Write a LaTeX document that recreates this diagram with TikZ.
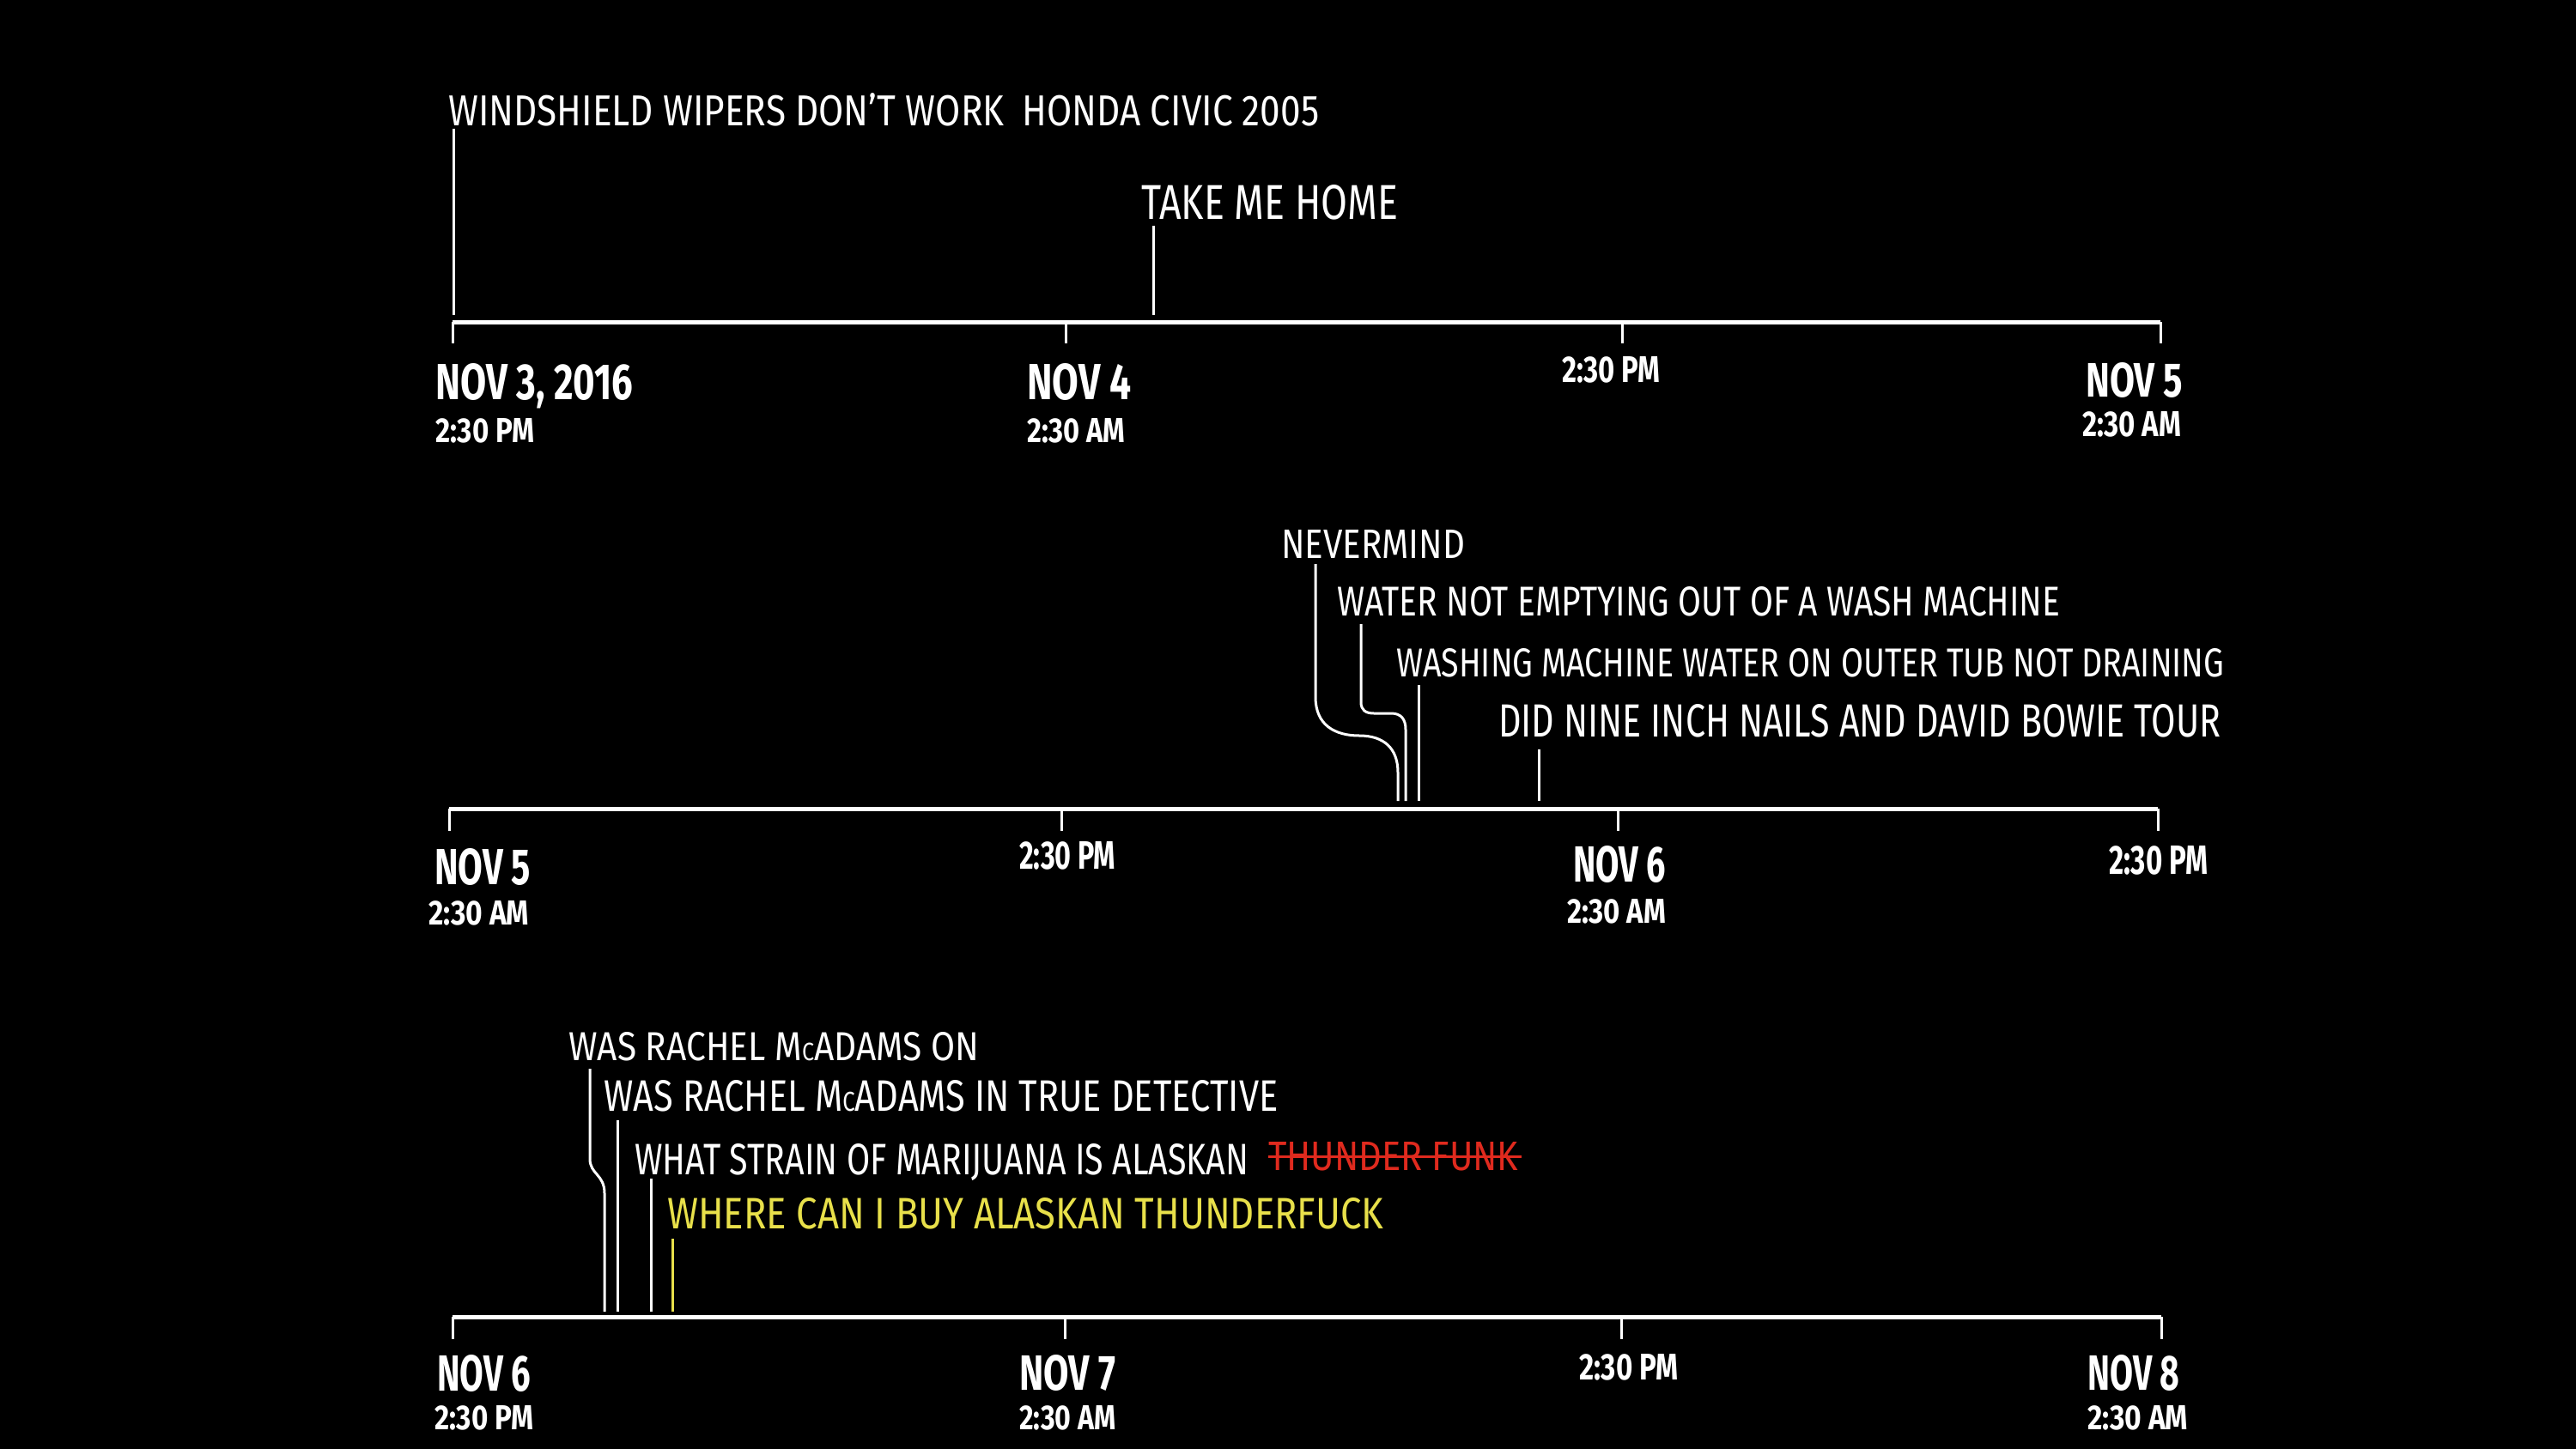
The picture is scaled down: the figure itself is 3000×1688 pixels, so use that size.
\documentclass[tikz,border=0pt]{standalone}
\usepackage{fontspec}
\setmainfont{Fira Sans}
\usepackage{graphicx}
\newcommand{\fitbox}[3]{\resizebox{#1pt}{#2pt}{#3}}
\newcommand{\smc}{\scalebox{0.62}{C}}
\definecolor{qyellow}{RGB}{232,224,74}
\definecolor{qred}{RGB}{224,42,30}
\begin{document}
\begin{tikzpicture}[x=1pt,y=-1pt,
  lbl/.style={anchor=north west, inner sep=0pt, text=white},
  axisline/.style={draw=white, line width=5pt},
  tickline/.style={draw=white, line width=3pt},
  conn/.style={draw=white, line width=3pt},
  yconn/.style={draw=qyellow, line width=3pt},
  strike/.style={draw=qred, line width=3pt}]
\fill[black] (0,0) rectangle (3000,1688);
\useasboundingbox (0,0) rectangle (3000,1688);

% ---------------- timeline 1 ----------------
\coordinate (a1s) at (527,375); \coordinate (a1e) at (2516,375);
\coordinate (a1t1) at (1241,375); \coordinate (a1t2) at (1889,375);
\coordinate (a1b0) at (527,400); \coordinate (a1b1) at (1241,400);
\coordinate (a1b2) at (1889,400); \coordinate (a1b3) at (2516,400);
\draw[axisline] (a1s) -- (a1e);
\draw[tickline] (a1s) -- (a1b0);
\draw[tickline] (a1t1) -- (a1b1);
\draw[tickline] (a1t2) -- (a1b2);
\draw[tickline] (a1e) -- (a1b3);

\node[lbl] (q1) at (522,108) {\fitbox{1014}{38}{WINDSHIELD WIPERS DON'T WORK\enspace HONDA CIVIC 2005}};
\node[lbl] (q2) at (1329,215) {\fitbox{299}{40}{TAKE ME HOME}};
\coordinate (q1a) at (528,150); \coordinate (q1b) at (528,367);
\coordinate (q2a) at (1343,263); \coordinate (q2b) at (1343,367);
\draw[conn] (q1a) -- (q1b);
\draw[conn] (q2a) -- (q2b);

\node[lbl] (l1a) at (507,423) {\fitbox{230}{42}{\bfseries NOV 3, 2016}};
\node[lbl] (l1b) at (507,487) {\fitbox{115}{28}{\bfseries 2:30 PM}};
\node[lbl] (l1c) at (1196,423) {\fitbox{121}{42}{\bfseries NOV 4}};
\node[lbl] (l1d) at (1196,487) {\fitbox{114}{28}{\bfseries 2:30 AM}};
\node[lbl] (l1e) at (1819,415) {\fitbox{114}{30}{\bfseries 2:30 PM}};
\node[lbl] (l1f) at (2429,422) {\fitbox{113}{40}{\bfseries NOV 5}};
\node[lbl] (l1g) at (2425,479) {\fitbox{115}{29}{\bfseries 2:30 AM}};

% ---------------- timeline 2 ----------------
\coordinate (a2s) at (523,942); \coordinate (a2e) at (2513,942);
\coordinate (a2t1) at (1236,942); \coordinate (a2t2) at (1884,942);
\coordinate (a2b0) at (523,968); \coordinate (a2b1) at (1236,968);
\coordinate (a2b2) at (1884,968); \coordinate (a2b3) at (2513,968);
\draw[axisline] (a2s) -- (a2e);
\draw[tickline] (a2s) -- (a2b0);
\draw[tickline] (a2t1) -- (a2b1);
\draw[tickline] (a2t2) -- (a2b2);
\draw[tickline] (a2e) -- (a2b3);

\node[lbl] (q3) at (1492,617) {\fitbox{214}{33}{NEVERMIND}};
\node[lbl] (q4) at (1557,683) {\fitbox{842}{34}{WATER NOT EMPTYING OUT OF A WASH MACHINE}};
\node[lbl] (q5) at (1626,755) {\fitbox{964}{33}{WASHING MACHINE WATER ON OUTER TUB NOT DRAINING}};
\node[lbl] (q6) at (1745,820) {\fitbox{841}{38}{DID NINE INCH NAILS AND DAVID BOWIE TOUR}};
\coordinate (q3a) at (1532,657); \coordinate (q3b) at (1628,933);
\coordinate (q4a) at (1585,727); \coordinate (q4b) at (1637,933);
\coordinate (q5a) at (1652,798); \coordinate (q5b) at (1652,933);
\coordinate (q6a) at (1792,873); \coordinate (q6b) at (1792,933);
\draw[conn] (q3a) -- (1532,812) .. controls (1532,845) and (1555,857) .. (1583,857)
  .. controls (1612,857) and (1628,872) .. (1628,900) -- (q3b);
\draw[conn] (q4a) -- (1585,818) .. controls (1585,827) and (1590,831) .. (1600,831)
  -- (1620,831) .. controls (1632,831) and (1637,838) .. (1637,850) -- (q4b);
\draw[conn] (q5a) -- (q5b);
\draw[conn] (q6a) -- (q6b);

\node[lbl] (l2a) at (506,988) {\fitbox{112}{42}{\bfseries NOV 5}};
\node[lbl] (l2b) at (499,1049) {\fitbox{117}{28}{\bfseries 2:30 AM}};
\node[lbl] (l2c) at (1187,980) {\fitbox{112}{32}{\bfseries 2:30 PM}};
\node[lbl] (l2d) at (1832,985) {\fitbox{108}{42}{\bfseries NOV 6}};
\node[lbl] (l2e) at (1825,1047) {\fitbox{115}{28}{\bfseries 2:30 AM}};
\node[lbl] (l2f) at (2456,985) {\fitbox{115}{33}{\bfseries 2:30 PM}};

% ---------------- timeline 3 ----------------
\coordinate (a3s) at (527,1534); \coordinate (a3e) at (2517,1534);
\coordinate (a3t1) at (1240,1534); \coordinate (a3t2) at (1888,1534);
\coordinate (a3b0) at (527,1560); \coordinate (a3b1) at (1240,1560);
\coordinate (a3b2) at (1888,1560); \coordinate (a3b3) at (2517,1560);
\draw[axisline] (a3s) -- (a3e);
\draw[tickline] (a3s) -- (a3b0);
\draw[tickline] (a3t1) -- (a3b1);
\draw[tickline] (a3t2) -- (a3b2);
\draw[tickline] (a3e) -- (a3b3);

\node[lbl] (q7) at (662,1202) {\fitbox{478}{33}{WAS RACHEL M\smc ADAMS ON}};
\node[lbl] (q8) at (703,1258) {\fitbox{785}{36}{WAS RACHEL M\smc ADAMS IN TRUE DETECTIVE}};
\node[lbl] (q9) at (739,1332) {\fitbox{715}{36}{WHAT STRAIN OF MARIJUANA IS ALASKAN}};
\node[lbl, text=qred] (rf) at (1477,1330) {\fitbox{291}{33}{THUNDER FUNK}};
\draw[strike] (rf.west) -- ([xshift=4pt]rf.east);
\node[lbl, text=qyellow] (q10) at (777,1395) {\fitbox{834}{36}{WHERE CAN I BUY ALASKAN THUNDERFUCK}};
\coordinate (q7a) at (687,1245); \coordinate (q7b) at (704,1528);
\coordinate (q8a) at (719,1305); \coordinate (q8b) at (719,1528);
\coordinate (q9a) at (758,1373); \coordinate (q9b) at (758,1528);
\coordinate (q10a) at (783,1443); \coordinate (q10b) at (783,1528);
\draw[conn] (q7a) -- (687,1350) .. controls (687,1368) and (704,1368) .. (704,1390) -- (q7b);
\draw[conn] (q8a) -- (q8b);
\draw[conn] (q9a) -- (q9b);
\draw[yconn] (q10a) -- (q10b);

\node[lbl] (l3a) at (509,1578) {\fitbox{109}{42}{\bfseries NOV 6}};
\node[lbl] (l3b) at (506,1637) {\fitbox{115}{28}{\bfseries 2:30 PM}};
\node[lbl] (l3c) at (1187,1578) {\fitbox{112}{41}{\bfseries NOV 7}};
\node[lbl] (l3d) at (1187,1637) {\fitbox{112}{28}{\bfseries 2:30 AM}};
\node[lbl] (l3e) at (1839,1577) {\fitbox{115}{30}{\bfseries 2:30 PM}};
\node[lbl] (l3f) at (2431,1578) {\fitbox{107}{41}{\bfseries NOV 8}};
\node[lbl] (l3g) at (2431,1637) {\fitbox{117}{28}{\bfseries 2:30 AM}};
\end{tikzpicture}
\end{document}
